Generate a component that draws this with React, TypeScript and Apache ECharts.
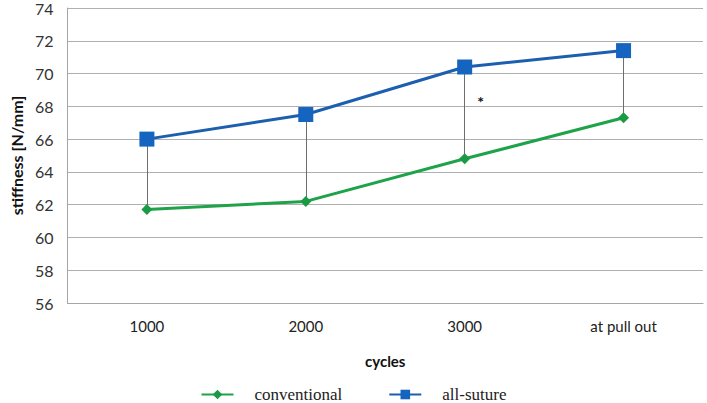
import React, { useEffect, useRef } from "react";
import * as echarts from "echarts";

const categories = ["1000", "2000", "3000", "at pull out"];
const conventional = [61.7, 62.2, 64.8, 67.3];
const allSuture = [66.0, 67.5, 70.4, 71.4];
const yTicks = { min: 56, max: 74, interval: 2 };
const significance = [{ category: "3000", value: 68.4, label: "*" }];

export default function App() {
  const ref = useRef<HTMLDivElement>(null);
  useEffect(() => {
    document.body.style.margin = "0";
    const chart = echarts.init(ref.current!, undefined, { renderer: "svg" });
    const sans = "Lato, 'Open Sans', sans-serif";
    const serif = "'Liberation Serif', 'DejaVu Serif', serif";
    const dropLines = categories.map((c, i) => [
      { coord: [c, allSuture[i]] },
      { coord: [c, conventional[i]] },
    ]);
    chart.setOption({
      animation: false,
      backgroundColor: "#ffffff",
      grid: { left: 60, right: 4, top: 6, bottom: 100 },
      legend: {
        top: 381,
        left: "center",
        itemWidth: 32,
        itemHeight: 12,
        itemGap: 46,
        textStyle: { fontFamily: serif, fontSize: 17, color: "#222", padding: [0, 0, 0, 16] },
        data: ["conventional", "all-suture"],
      },
      xAxis: {
        type: "category",
        data: categories,
        name: "cycles",
        nameLocation: "middle",
        nameGap: 50,
        nameTextStyle: { fontFamily: sans, fontSize: 15, fontWeight: "bold", color: "#111" },
        axisLine: { show: true, lineStyle: { color: "#a6a6a6", width: 1 } },
        axisTick: { show: false },
        axisLabel: { fontFamily: sans, fontSize: 15, color: "#222", margin: 15 },
      },
      yAxis: {
        type: "value",
        min: yTicks.min,
        max: yTicks.max,
        interval: yTicks.interval,
        name: "stiffness [N/mm]",
        nameLocation: "middle",
        nameGap: 40,
        nameTextStyle: { fontFamily: sans, fontSize: 16, fontWeight: "bold", color: "#111" },
        axisLine: { show: true, lineStyle: { color: "#a6a6a6", width: 1 } },
        axisTick: { show: false },
        axisLabel: { fontFamily: sans, fontSize: 16, color: "#333", margin: 14 },
        splitLine: { show: true, lineStyle: { color: "#b0b0b0", width: 1 } },
      },
      series: [
        {
          name: "conventional",
          type: "line",
          data: conventional,
          symbol: "diamond",
          symbolSize: 11,
          lineStyle: { color: "#1fa34a", width: 3 },
          itemStyle: { color: "#1a9a45" },
          z: 3,
        },
        {
          name: "all-suture",
          type: "line",
          data: allSuture,
          symbol: "rect",
          symbolSize: 15,
          lineStyle: { color: "#1c5fae", width: 3 },
          itemStyle: { color: "#1565c0" },
          z: 4,
          markLine: {
            silent: true,
            symbol: "none",
            label: { show: false },
            lineStyle: { color: "#6e6e6e", width: 1, type: "solid" },
            data: dropLines,
            z: 1,
          },
          markPoint: {
            silent: true,
            symbol: "circle",
            symbolSize: 0,
            label: {
              show: true,
              formatter: (p: any) => p.name,
              fontSize: 16,
              fontWeight: "bold",
              color: "#111",
              fontFamily: sans,
              offset: [16, 2],
            },
            data: significance.map((s) => ({ name: s.label, coord: [s.category, s.value] })),
          },
        },
      ],
    });
    return () => chart.dispose();
  }, []);
  return (
    <div
      ref={ref}
      style={{ position: "absolute", left: 0, top: 0, width: 707, height: 403 }}
    />
  );
}
